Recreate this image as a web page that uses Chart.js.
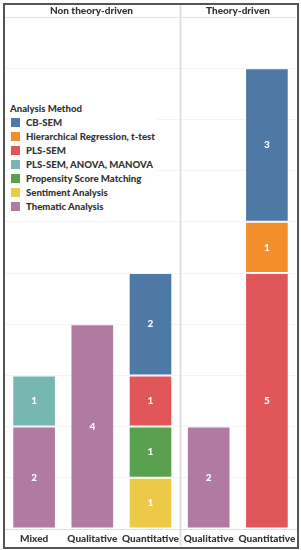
<!DOCTYPE html>
<html>
<head>
<meta charset="utf-8">
<script src="https://cdn.jsdelivr.net/npm/chart.js@4/dist/chart.umd.min.js"></script>
<style>
  body { margin: 0; background: #fff; }
  #wrap { position: relative; width: 301px; height: 550px; font-family: Lato, sans-serif; color: #333; }
  #frame { position: absolute; left: 3px; top: 3px; width: 292px; height: 542px; border: 2px solid #555; pointer-events: none; }
  #headLine { position: absolute; left: 4px; top: 17px; width: 292px; height: 1px; background: #e4e4e4; }
  .head { position: absolute; top: 4px; font-weight: 900; font-size: 10px; line-height: 13px; text-align: center; }
  #legend { position: absolute; left: 8px; top: 102px; padding: 0 2px 2px 2px; background: #fff; font-weight: 900; font-size: 9.6px; }
  #legend .title { line-height: 13px; margin-left: 0; }
  #legend .item { display: flex; align-items: center; height: 14px; white-space: nowrap; }
  #legend .sw { width: 9px; height: 9px; margin: 0 6px 0 1px; }
  canvas { position: absolute; left: 0; top: 0; }
</style>
</head>
<body>
<div id="wrap">
  <canvas id="chart" width="301" height="550"></canvas>
  <div id="headLine"></div>
  <div class="head" style="left:4px;width:175px;">Non theory-driven</div>
  <div class="head" style="left:180px;width:116px;">Theory-driven</div>
  <div id="legend"></div>
  <div id="frame"></div>
</div>
<script>
const categories = ['Mixed', 'Qualitative', 'Quantitative', 'Qualitative', 'Quantitative'];
const groups = ['Non theory-driven', 'Non theory-driven', 'Non theory-driven', 'Theory-driven', 'Theory-driven'];

// legend order (top to bottom)
const methods = ['CB-SEM', 'Hierarchical Regression, t-test', 'PLS-SEM', 'PLS-SEM, ANOVA, MANOVA',
                 'Propensity Score Matching', 'Sentiment Analysis', 'Thematic Analysis'];
const colors = ['#4e79a7', '#f28e2b', '#e15759', '#76b7b2', '#59a14f', '#edc948', '#b07aa1'];

const cbSem        = [null, null, 2, null, 3];
const hierarchical = [null, null, null, null, 1];
const plsSem       = [null, null, 1, null, 5];
const plsAnova     = [1, null, null, null, null];
const propensity   = [null, null, 1, null, null];
const sentiment    = [null, null, 1, null, null];
const thematic     = [2, 4, null, 2, null];
const seriesValues = [cbSem, hierarchical, plsSem, plsAnova, propensity, sentiment, thematic];

const yMax = 10;

// legend
const legendDiv = document.getElementById('legend');
legendDiv.innerHTML = '<div class="title">Analysis Method</div>' +
  methods.map((m, i) => `<div class="item"><span class="sw" style="background:${colors[i]}"></span>${m}</div>`).join('');

// Chart.js stacks first dataset at the bottom, so reverse legend order
const datasets = methods.map((m, i) => ({
  label: m,
  data: seriesValues[i],
  backgroundColor: colors[i],
  borderColor: 'rgba(255,255,255,0.15)',
  borderWidth: 1,
  borderSkipped: false,
  barPercentage: 0.75,
  categoryPercentage: 1
})).reverse();

// white value labels in each segment
const segmentLabels = {
  id: 'segmentLabels',
  afterDatasetsDraw(chart) {
    const c = chart.ctx;
    c.save();
    c.fillStyle = '#fff';
    c.font = '900 10px Lato, sans-serif';
    c.textAlign = 'center';
    c.textBaseline = 'middle';
    chart.data.datasets.forEach((ds, di) => {
      chart.getDatasetMeta(di).data.forEach((bar, i) => {
        const v = ds.data[i];
        if (v == null) return;
        c.fillText(String(v), bar.x, (bar.y + bar.base) / 2);
      });
    });
    c.restore();
  }
};

// vertical divider between the two panels
const panelDivider = {
  id: 'panelDivider',
  afterDraw(chart) {
    const xs = chart.scales.x;
    let idx = groups.findIndex((g, i) => i > 0 && g !== groups[i - 1]);
    const x = Math.round((xs.getPixelForValue(idx - 1) + xs.getPixelForValue(idx)) / 2) + 0.5;
    const c = chart.ctx;
    c.save();
    c.strokeStyle = '#e0e0e0';
    c.lineWidth = 2;
    c.beginPath();
    c.moveTo(x, 4);
    c.lineTo(x, 546);
    c.stroke();
    c.restore();
  }
};

new Chart(document.getElementById('chart'), {
  type: 'bar',
  data: { labels: categories, datasets: datasets },
  options: {
    responsive: false,
    animation: false,
    layout: { padding: { left: 5, right: 5, top: 17, bottom: 0 } },
    plugins: { legend: { display: false }, tooltip: { enabled: false } },
    scales: {
      x: {
        stacked: true,
        grid: { display: false, drawTicks: false },
        border: { display: true, color: '#e0e0e0' },
        ticks: { color: '#333', font: { family: 'Lato, sans-serif', weight: '900', size: 10 }, padding: 4, maxRotation: 0, autoSkip: false },
        afterFit(scale) { scale.height = 21; }
      },
      y: {
        stacked: true,
        min: 0,
        max: yMax,
        ticks: { display: false, stepSize: 1 },
        grid: { color: '#f3f3f3', drawTicks: false },
        border: { display: false },
        afterFit(scale) { scale.width = 0; }
      }
    }
  },
  plugins: [segmentLabels, panelDivider]
});
</script>
</body>
</html>
